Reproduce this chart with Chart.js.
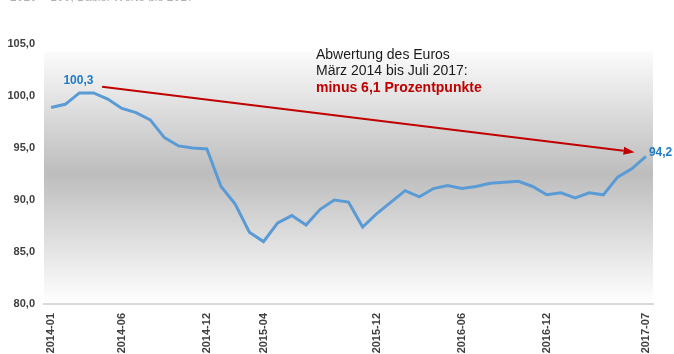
<!DOCTYPE html>
<html>
<head>
<meta charset="utf-8">
<script src="https://cdn.jsdelivr.net/npm/chart.js@4/dist/chart.umd.min.js"></script>
<style>
  html, body { margin: 0; padding: 0; background: #fff; }
  #euroChart { display: block; }
</style>
</head>
<body>
<canvas id="euroChart" width="674" height="354"></canvas>
<script>
// Monatswerte Euro-Index (2014-01 bis 2017-07)
const months = [
    '2014-01', '2014-02', '2014-03', '2014-04', '2014-05', '2014-06', '2014-07', '2014-08', '2014-09', '2014-10', '2014-11', '2014-12',
    '2015-01', '2015-02', '2015-03', '2015-04', '2015-05', '2015-06', '2015-07', '2015-08', '2015-09', '2015-10', '2015-11', '2015-12',
    '2016-01', '2016-02', '2016-03', '2016-04', '2016-05', '2016-06', '2016-07', '2016-08', '2016-09', '2016-10', '2016-11', '2016-12',
    '2017-01', '2017-02', '2017-03', '2017-04', '2017-05', '2017-06', '2017-07'
];
const indexValues = [
    98.9, 99.2, 100.3, 100.3, 99.7, 98.8, 98.4, 97.7, 96.0, 95.2, 95.0, 94.9,
    91.3, 89.6, 86.9, 86.0, 87.8, 88.5, 87.6, 89.1, 90.0, 89.8, 87.4, 88.7,
    89.8, 90.9, 90.3, 91.1, 91.4, 91.1, 91.3, 91.6, 91.7, 91.8, 91.3, 90.5,
    90.7, 90.2, 90.7, 90.5, 92.2, 93.0, 94.2
];
const shownMonths = ['2014-01', '2014-06', '2014-12', '2015-04', '2015-12', '2016-06', '2016-12', '2017-07'];
const yTicks = [80, 85, 90, 95, 100, 105];

const noteLines = ['Abwertung des Euros', 'März 2014 bis Juli 2017:'];
const noteHighlight = 'minus 6,1 Prozentpunkte';
const subtitle = '2010 = 100, Basis: Werte bis 2017';

// Pfeil in Datenkoordinaten (Index, Wert)
const arrowFrom = [3.6, 100.9];
const arrowTo = [41.2, 94.6];

const FONT = '"Liberation Sans", Arial, sans-serif';
const fmt = v => v.toFixed(1).replace('.', ',');

const plotBackground = {
    id: 'plotBackground',
    beforeDraw(chart) {
        const { ctx, chartArea: a } = chart;
        const top = a.top + 8;
        const g = ctx.createLinearGradient(0, top, 0, a.bottom);
        g.addColorStop(0, '#fbfbfb');
        g.addColorStop(0.48, '#bdbdbd');
        g.addColorStop(1, '#ffffff');
        ctx.save();
        ctx.fillStyle = g;
        ctx.fillRect(a.left, top, a.right - a.left, a.bottom - top);
        ctx.restore();
    }
};

const annotations = {
    id: 'annotations',
    afterDatasetsDraw(chart) {
        const { ctx } = chart;
        const xs = chart.scales.x, ys = chart.scales.y;
        ctx.save();

        // abgeschnittene Kopfzeile
        ctx.font = '12px ' + FONT;
        ctx.fillStyle = '#b0b0b0';
        ctx.textBaseline = 'alphabetic';
        ctx.textAlign = 'left';
        ctx.fillText(subtitle, 10, 1);

        // Pfeil
        const x1 = xs.getPixelForValue(arrowFrom[0]), y1 = ys.getPixelForValue(arrowFrom[1]);
        const x2 = xs.getPixelForValue(arrowTo[0]), y2 = ys.getPixelForValue(arrowTo[1]);
        const ang = Math.atan2(y2 - y1, x2 - x1);
        const head = 11, half = 4;
        ctx.strokeStyle = '#c00000';
        ctx.fillStyle = '#c00000';
        ctx.lineWidth = 2;
        ctx.beginPath();
        ctx.moveTo(x1, y1);
        ctx.lineTo(x2 - head * Math.cos(ang), y2 - head * Math.sin(ang));
        ctx.stroke();
        ctx.beginPath();
        ctx.moveTo(x2, y2);
        ctx.lineTo(x2 - head * Math.cos(ang) + half * Math.sin(ang), y2 - head * Math.sin(ang) - half * Math.cos(ang));
        ctx.lineTo(x2 - head * Math.cos(ang) - half * Math.sin(ang), y2 - head * Math.sin(ang) + half * Math.cos(ang));
        ctx.closePath();
        ctx.fill();

        // Hinweistext
        ctx.textBaseline = 'middle';
        ctx.font = '14px ' + FONT;
        ctx.fillStyle = '#1a1a1a';
        noteLines.forEach((line, i) => ctx.fillText(line, 316, 55 + i * 16.5));
        ctx.font = 'bold 14px ' + FONT;
        ctx.fillStyle = '#c00000';
        ctx.fillText(noteHighlight, 316, 88);

        // Wertbeschriftungen
        const meta = chart.getDatasetMeta(0);
        const maxIdx = indexValues.indexOf(Math.max(...indexValues));
        const lastIdx = indexValues.length - 1;
        ctx.font = 'bold 12px ' + FONT;
        ctx.fillStyle = '#1f7bc6';
        const pMax = meta.data[maxIdx];
        ctx.textAlign = 'center';
        ctx.fillText(fmt(indexValues[maxIdx]), pMax.x - 1, pMax.y - 12);
        const pLast = meta.data[lastIdx];
        ctx.textAlign = 'left';
        ctx.fillText(fmt(indexValues[lastIdx]), pLast.x + 3, pLast.y - 4);

        ctx.restore();
    }
};

new Chart(document.getElementById('euroChart'), {
    type: 'line',
    data: {
        labels: months,
        datasets: [{
            data: indexValues,
            borderColor: '#5b9bd5',
            borderWidth: 3,
            pointRadius: 0,
            tension: 0,
            fill: false
        }]
    },
    options: {
        responsive: false,
        animation: false,
        devicePixelRatio: 1,
        layout: { padding: { top: 44, right: 21, left: 0, bottom: 0 } },
        plugins: {
            legend: { display: false },
            tooltip: { enabled: false }
        },
        scales: {
            x: {
                offset: true,
                grid: { display: false, drawTicks: false },
                border: { display: true, color: '#d9d9d9', width: 2 },
                ticks: {
                    autoSkip: false,
                    maxRotation: 90,
                    minRotation: 90,
                    padding: 9,
                    color: '#3f3f3f',
                    font: { family: FONT, size: 11, weight: 'bold' },
                    callback: function (value) {
                        const label = this.getLabelForValue(value);
                        return shownMonths.includes(label) ? label : null;
                    }
                },
                afterFit: scale => { scale.height = 50; }
            },
            y: {
                min: yTicks[0],
                max: yTicks[yTicks.length - 1],
                afterBuildTicks: scale => { scale.ticks = yTicks.map(v => ({ value: v })); },
                grid: { display: false, drawTicks: false },
                border: { display: false },
                ticks: {
                    padding: 9,
                    color: '#3f3f3f',
                    font: { family: FONT, size: 11, weight: 'bold' },
                    callback: v => fmt(v)
                },
                afterFit: scale => { scale.width = 44; }
            }
        }
    },
    plugins: [plotBackground, annotations]
});
</script>
</body>
</html>
